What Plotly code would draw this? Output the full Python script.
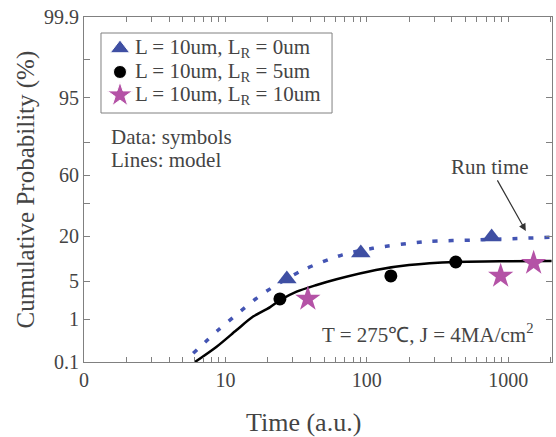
import plotly.graph_objects as go
from statistics import NormalDist

nd = NormalDist()
def probit(p_percent):
    return [nd.inv_cdf(p / 100.0) for p in p_percent]

# ---- data (percent) ----
tri_x = [27.2, 90.7, 764]
tri_y = [5.45, 12.8, 19.8]
circ_x = [24.3, 148, 426]
circ_y = [2.5, 6.07, 9.7]
star_x = [38.3, 885, 1514]
star_y = [2.5, 6.07, 9.4]

model0_x = [5.92, 8.9, 12.8, 18.3, 34.6, 67.3, 110, 261, 589, 2028]
model0_y = [0.167, 0.59, 1.46, 3.07, 7.3, 12.1, 14.6, 17.5, 18.3, 19.6]
model5_x = [6.09, 8.67, 12.0, 15.7, 20.6, 24.5, 31.9, 44.2, 61.1, 116, 199, 426, 1014, 2028]
model5_y = [0.1, 0.243, 0.59, 1.14, 1.74, 2.39, 3.36, 4.36, 5.4, 7.48, 8.8, 9.7, 9.94, 10.0]

series_names = ["L = 10um, L<sub>R</sub> = 0um",
                "L = 10um, L<sub>R</sub> = 5um",
                "L = 10um, L<sub>R</sub> = 10um"]

ytick_p = [0.1, 1, 5, 20, 60, 95, 99.9]
ytick_text = ["0.1", "1", "5", "20", "60", "95", "99.9"]
yminor_p = [40, 80, 99]
xtick_v = [1, 10, 100, 1000]
xtick_text = ["0", "10", "100", "1000"]
xminor = [m * 10 ** d for d in range(0, 4) for m in range(2, 10)]

FONT = "Liberation Serif, Times New Roman, serif"
TXT = "#444444"
AX = "#808080"
BLUE = "#3f4fa3"
MAG = "#b452a6"
symbols = ["triangle-up", "circle", "star"]
colors = [BLUE, "black", MAG]
sizes = [17, 13, 19]

fig = go.Figure()
fig.add_trace(go.Scatter(x=model0_x, y=probit(model0_y), mode="lines",
                         line=dict(color="#4354b3", width=3.5, dash="5px,11px", shape="spline", smoothing=0.8),
                         showlegend=False, hoverinfo="skip"))
fig.add_trace(go.Scatter(x=model5_x, y=probit(model5_y), mode="lines",
                         line=dict(color="black", width=2.5, shape="spline", smoothing=0.8),
                         showlegend=False, hoverinfo="skip"))
for xs, ys, sym, col, sz, nm in zip([tri_x, circ_x, star_x], [tri_y, circ_y, star_y],
                                     symbols, colors, sizes, series_names):
    fig.add_trace(go.Scatter(x=xs, y=probit(ys), mode="markers",
                             marker=dict(symbol=sym, size=sz, color=col),
                             name=nm, showlegend=False))

# hand-drawn legend (compact row spacing like the original)
leg_rows_y = [0.9087, 0.8406, 0.7739]
fig.add_shape(type="rect", xref="paper", yref="paper", x0=0.0363, x1=0.530, y0=0.7217, y1=0.9536,
              line=dict(color=AX, width=1))
fig.add_trace(go.Scatter(x=[0.0769] * 3, y=leg_rows_y, xaxis="x2", yaxis="y2", mode="markers",
                         marker=dict(symbol=symbols, size=sizes, color=colors, opacity=1),
                         showlegend=False, hoverinfo="skip"))
for ry, nm in zip(leg_rows_y, series_names):
    fig.add_annotation(xref="paper", yref="paper", x=0.1047, y=ry, text=nm, showarrow=False,
                       xanchor="left", yanchor="middle", font=dict(size=21))

fig.update_layout(
    width=556, height=437,
    margin=dict(l=84, r=4, t=17, b=75),
    paper_bgcolor="white", plot_bgcolor="white",
    font=dict(family=FONT, color=TXT, size=20),
    showlegend=False,
    xaxis2=dict(overlaying="x", range=[0, 1], visible=False),
    yaxis2=dict(overlaying="y", range=[0, 1], visible=False),
    xaxis=dict(type="log", range=[0, 3.31], tickmode="array",
               tickvals=xtick_v, ticktext=xtick_text,
               ticks="inside", ticklen=5, tickcolor=AX,
               showline=True, linecolor=AX, linewidth=1.2, mirror="ticks",
               showgrid=False, zeroline=False, tickfont=dict(size=20),
               minor=dict(tickvals=xminor, ticks="inside", ticklen=5,
                          tickcolor=AX, showgrid=False)),
    yaxis=dict(range=[nd.inv_cdf(0.001), nd.inv_cdf(0.999)], tickmode="array",
               tickvals=probit(ytick_p), ticktext=ytick_text,
               ticks="inside", ticklen=6, tickcolor=AX,
               showline=True, linecolor=AX, linewidth=1.2, mirror="ticks",
               showgrid=False, zeroline=False, tickfont=dict(size=20),
               minor=dict(tickvals=probit(yminor_p), ticks="inside", ticklen=6,
                          tickcolor=AX, showgrid=False)),
)

ann = [
    dict(text="Time (a.u.)", x=0.470, y=-0.174, font=dict(size=26)),
    dict(text="Cumulative Probability (%)", x=-0.124, y=0.50, textangle=-90, font=dict(size=25)),
    dict(text="Data: symbols", x=0.0534, y=0.652, xanchor="left", font=dict(size=21)),
    dict(text="Lines: model", x=0.0534, y=0.586, xanchor="left", font=dict(size=21)),
    dict(text="T = 275℃, J = 4MA/cm<sup>2</sup>", x=0.735, y=0.084, font=dict(size=21)),
]
for a in ann:
    fig.add_annotation(xref="paper", yref="paper", showarrow=False,
                       xanchor=a.get("xanchor", "center"), yanchor="middle",
                       **{k: v for k, v in a.items() if k != "xanchor"})
fig.add_annotation(xref="paper", yref="paper", x=0.944, y=0.380, text="Run time",
                   font=dict(size=21),
                   showarrow=True, ax=-36, ay=-64, arrowhead=2, arrowsize=1.2,
                   arrowwidth=1.2, arrowcolor="#333333")

fig.write_html("out.html", config={"displayModeBar": False},
               post_script="document.body.style.margin='0';document.body.style.overflow='hidden';")
